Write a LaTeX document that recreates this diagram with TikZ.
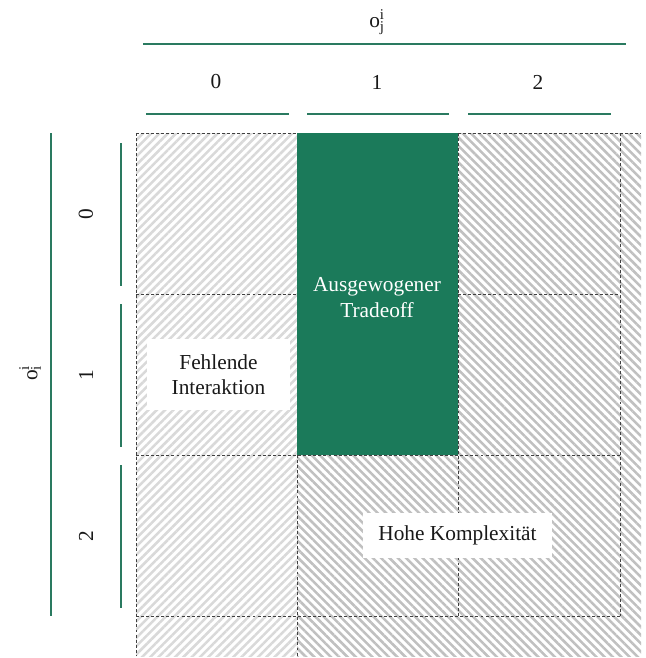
\documentclass[tikz,border=0pt]{standalone}
\usepackage{fontspec}
\setmainfont{Liberation Serif}
\usetikzlibrary{patterns.meta}
\definecolor{dgreen}{HTML}{1B7A5A}
\definecolor{hatchA}{HTML}{D9D9D9}
\definecolor{hatchB}{HTML}{C0C0C0}
\definecolor{axgreen}{HTML}{2A7A60}
\begin{document}
\begin{tikzpicture}[x=0.75pt,y=-0.75pt,
  font=\fontsize{16}{19}\selectfont,
  gridline/.style={draw=black!75, dash pattern=on 2.2pt off 1.6pt, line width=0.55pt},
  axisline/.style={draw=axgreen, line width=0.9pt},
  hatchne/.style={pattern={Lines[angle=45,distance=4.4pt,line width=1.9pt]}, pattern color=hatchA},
  hatchnw/.style={pattern={Lines[angle=-45,distance=4.4pt,line width=1.9pt]}, pattern color=hatchB},
  whitelbl/.style={fill=white, align=center, inner sep=0pt, text=black!90},
  ticklbl/.style={text=black!90}]
\useasboundingbox (0,0) rectangle (646,658);
% hatched areas
\path[hatchne] (136,133) rectangle (297,656);
\path[hatchnw] (297,455) rectangle (458,656);
\path[hatchnw] (458,133) rectangle (641,656);
% green block
\path[fill=dgreen] (297,133) rectangle (458,455);
% grid
\draw[gridline] (136,133) -- (297,133);
\draw[gridline] (458,133) -- (641,133);
\draw[gridline] (136,133) -- (136,656);
\draw[gridline] (297,455) -- (297,656);
\draw[gridline] (458,133) -- (458,294);
\draw[gridline] (458,294) -- (458,616);
\draw[gridline] (620,133) -- (620,616);
\draw[gridline] (136,294) -- (297,294);
\draw[gridline] (458,294) -- (620,294);
\draw[gridline] (136,455) -- (620,455);
\draw[gridline] (136,616) -- (620,616);
% labels in cells
\node[whitelbl, minimum width=107pt, minimum height=53pt] (fehl) at (218.5,374.5) {Fehlende\\Interaktion};
\node[whitelbl, minimum width=142pt, minimum height=34pt] (hohe) at (457.5,535.5) {Hohe Komplexität};
\node[align=center, text=white, inner sep=0pt] (ausg) at (377,297.5) {Ausgewogener\\Tradeoff};
% top axis
\node[ticklbl] (ojtitle) at (377,22) {o\rlap{\textsuperscript{i}}\textsubscript{j}};
\draw[axisline] (143,44) -- (626,44);
\node[ticklbl] (c0) at (216,82) {0};
\node[ticklbl] (c1) at (377,82) {1};
\node[ticklbl] (c2) at (538,82) {2};
\draw[axisline] (146,114) -- (289,114);
\draw[axisline] (307,114) -- (449,114);
\draw[axisline] (468,114) -- (611,114);
% left axis
\node[ticklbl, rotate=90] (oititle) at (30,373) {o\rlap{\textsuperscript{i}}\textsubscript{i}};
\draw[axisline] (51,133) -- (51,616);
\node[ticklbl, rotate=90] (r0) at (86,214) {0};
\node[ticklbl, rotate=90] (r1) at (86,375) {1};
\node[ticklbl, rotate=90] (r2) at (86,536) {2};
\draw[axisline] (121,143) -- (121,286);
\draw[axisline] (121,304) -- (121,447);
\draw[axisline] (121,465) -- (121,608);
\end{tikzpicture}
\end{document}
